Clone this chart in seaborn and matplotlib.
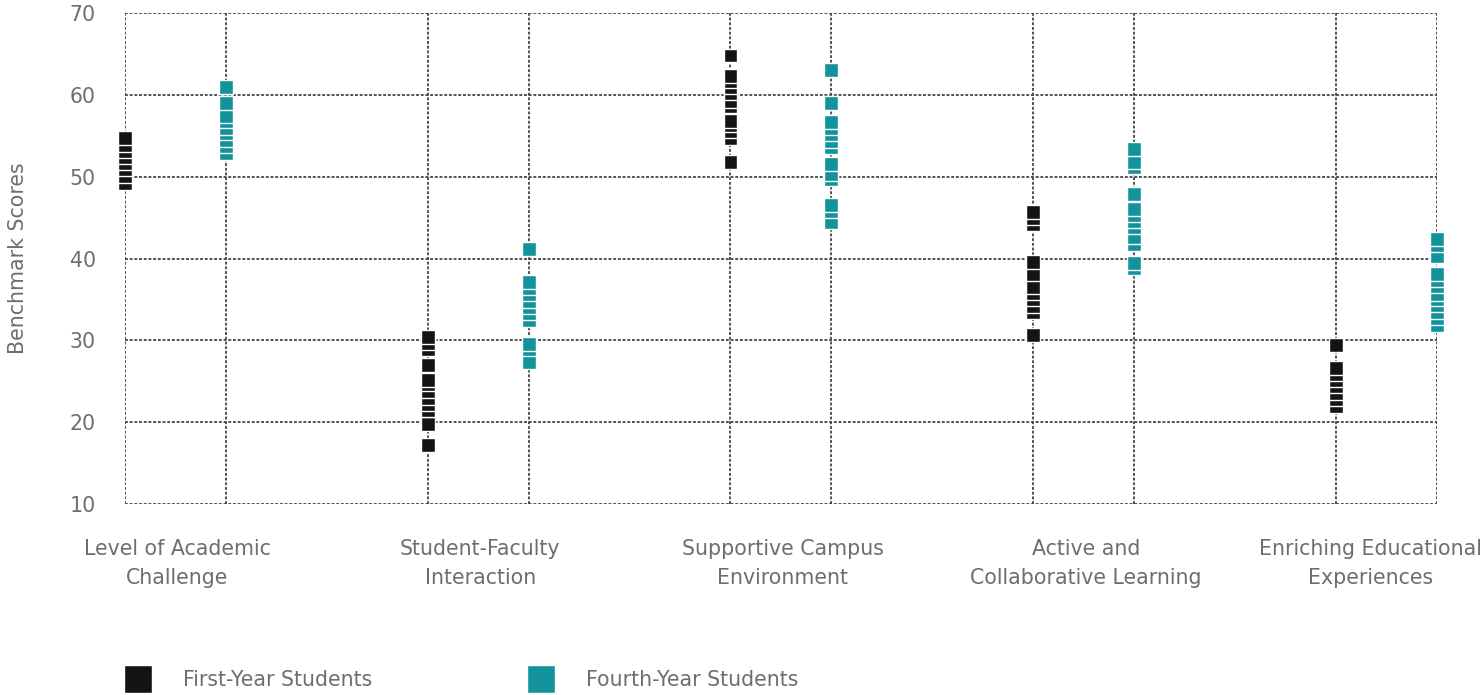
import matplotlib
matplotlib.use('Agg')
import matplotlib.pyplot as plt
from matplotlib.lines import Line2D
import seaborn as sns
import pandas as pd

# benchmark categories and the two student groups
categories = ['Level of Academic\nChallenge', 'Student-Faculty\nInteraction',
              'Supportive Campus\nEnvironment', 'Active and\nCollaborative Learning',
              'Enriching Educational\nExperiences']
groups = ['First-Year Students', 'Fourth-Year Students']

# scores, one list per category
first_year = [
    [54.7, 53.9, 53.1, 52.4, 51.7, 50.9, 50.1, 49.2],
    [30.4, 29.7, 28.9, 27.0, 25.2, 24.6, 23.8, 23.0, 22.2, 21.5, 19.8, 17.2],
    [64.8, 62.3, 61.7, 61.0, 60.2, 59.3, 58.6, 56.8, 56.3, 55.6, 54.7, 51.8],
    [45.7, 45.0, 44.2, 39.6, 38.1, 36.5, 35.8, 35.0, 34.2, 33.5, 30.6],
    [29.4, 26.6, 25.9, 25.2, 24.4, 23.6, 22.8, 22.0],
]
fourth_year = [
    [61.0, 59.0, 57.4, 56.8, 56.0, 55.3, 54.5, 53.7, 52.9],
    [41.2, 37.1, 36.4, 35.6, 34.8, 34.1, 33.3, 32.5, 29.6, 28.9, 27.4],
    [63.0, 59.0, 56.7, 56.0, 55.2, 54.4, 53.6, 51.6, 50.3, 49.7, 46.5, 45.8, 44.4],
    [53.4, 51.8, 51.2, 47.9, 46.0, 45.3, 44.6, 43.8, 42.6, 41.8, 39.5, 38.8],
    [42.4, 41.6, 40.3, 38.1, 37.4, 36.6, 35.7, 35.0, 34.3, 33.5, 32.7, 31.9],
]
y_ticks = [10, 20, 30, 40, 50, 60, 70]

colors = {'First-Year Students': '#141414', 'Fourth-Year Students': '#12939c'}
text_color = '#6e6e6e'

# long table: each category gets two slots, then an empty slot
rows = []
for i, cat in enumerate(categories):
    for j, scores in enumerate([first_year[i], fourth_year[i]]):
        for s in scores:
            rows.append({'category': cat, 'group': groups[j],
                         'slot': 3 * i + j, 'score': s})
df = pd.DataFrame(rows)
# draw low scores first so the highest square of a column sits on top
df = df.sort_values('score').reset_index(drop=True)

sns.set_style('white')
plt.rcParams['font.family'] = ['DejaVu Sans']

fig, ax = plt.subplots(figsize=(14.84, 6.95), dpi=100)
fig.subplots_adjust(left=0.0842, right=0.9683, bottom=0.2748, top=0.9813)

sns.stripplot(data=df, x='slot', y='score', hue='group', hue_order=groups,
              palette=colors, native_scale=True, orient='x', jitter=False,
              marker='s', size=10, edgecolor='white', linewidth=1,
              legend=False, clip_on=False, zorder=3, ax=ax)

slots = sorted(df['slot'].unique())
ax.set_xlim(0, 13)
ax.set_ylim(10, 70)
ax.set_xticks(slots)
ax.set_xticklabels([])
ax.set_yticks(y_ticks)
ax.set_axisbelow(True)
ax.grid(True, which='major', color='#444444', linestyle=(0, (1.6, 1.0)),
        linewidth=1.3)
for sp in ax.spines.values():
    sp.set_visible(False)

fs = 14.8
ax.tick_params(axis='both', length=0, labelsize=fs, colors=text_color)
ax.tick_params(axis='y', pad=21)
ax.set_xlabel('')
ax.set_ylabel('Benchmark Scores', fontsize=fs, color=text_color)
ax.yaxis.set_label_coords(-0.074, 0.5)

# category names under each pair of columns
for i, cat in enumerate(categories):
    if i == len(categories) - 1:
        ax.text(13.45, -0.072, cat, transform=ax.get_xaxis_transform(),
                ha='right', va='top', multialignment='center',
                fontsize=fs, color=text_color, linespacing=1.55)
    else:
        ax.text(3 * i + 0.52, -0.072, cat, transform=ax.get_xaxis_transform(),
                ha='center', va='top', multialignment='center',
                fontsize=fs, color=text_color, linespacing=1.55)

handles = [Line2D([], [], marker='s', linestyle='none', markersize=20,
                  markerfacecolor=colors[g], markeredgecolor='white',
                  markeredgewidth=1) for g in groups]
leg = fig.legend(handles, groups, loc='center left',
                 bbox_to_anchor=(0.0858, 0.021), ncol=2, frameon=False,
                 borderpad=0, borderaxespad=0, handlelength=1.0,
                 handletextpad=1.7, columnspacing=7.7, fontsize=fs)
for t in leg.get_texts():
    t.set_color(text_color)

plt.savefig('out.png', dpi=100)
